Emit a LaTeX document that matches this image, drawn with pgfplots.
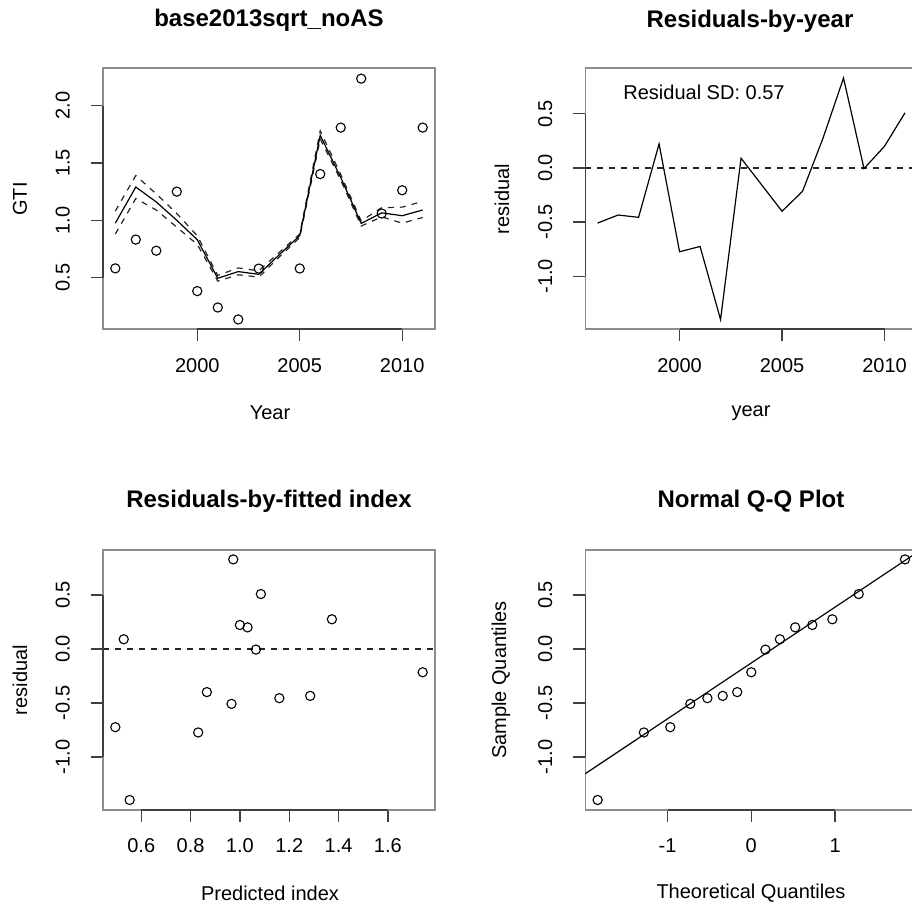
\documentclass[border=0pt]{standalone}
\usepackage{fontspec}
\setmainfont{Liberation Sans}
\usepackage{pgfplots}
\pgfplotsset{compat=1.18}
\begin{document}
\fontsize{10pt}{12pt}\selectfont
\begin{tikzpicture}
\pgfplotsset{
  rbase/.style={
    scale only axis,
    width=166pt,
    /pgf/number format/assume math mode=true,
    /pgf/number format/1000 sep={},
    font=\fontsize{10pt}{12pt}\selectfont,
    axis line style={draw=black!45, line width=0.8pt},
    tick align=outside,
    tick pos=left,
    major tick length=6pt,
    every tick/.style={black!75, line width=0.7pt},
    yticklabel style={xshift=-7pt, rotate=90, anchor=south, /pgf/number format/.cd, fixed, fixed zerofill, precision=1},
    xticklabel style={yshift=-5pt},
    clip=false,
  },
  circ/.style={only marks, mark=o, mark size=2.3pt, mark options={line width=0.55pt, black}},
  rline/.style={black, line width=0.6pt, mark=none},
  rdash/.style={black!85, line width=0.6pt, mark=none, dash pattern=on 3pt off 3pt},
}
\path[use as bounding box] (0,0) rectangle (456pt,453.5pt);
\clip (0,0) rectangle (456pt,453.5pt);

% ---------------- Panel 1 ----------------
\begin{axis}[rbase, at={(51.5pt,288.85pt)}, anchor=south west, height=130.5pt,
  xmin=1995.4, xmax=2011.6, ymin=0.05, ymax=2.325,
  xtick={2000,2005,2010}, ytick={0.5,1.0,1.5,2.0}]
\addplot[rdash] coordinates {(1996,1.08) (1997,1.39) (1998,1.23) (1999,1.06) (2000,0.865) (2001,0.52) (2002,0.585) (2003,0.56) (2004,0.72) (2005,0.88) (2006,1.78) (2007,1.40) (2008,0.995) (2009,1.11) (2010,1.115) (2011,1.165)};
\addplot[rdash] coordinates {(1996,0.88) (1997,1.19) (1998,1.09) (1999,0.94) (2000,0.79) (2001,0.47) (2002,0.525) (2003,0.505) (2004,0.68) (2005,0.85) (2006,1.71) (2007,1.35) (2008,0.95) (2009,1.03) (2010,0.975) (2011,1.025)};
\addplot[rline] coordinates {(1996,0.975) (1997,1.29) (1998,1.16) (1999,1.0) (2000,0.831) (2001,0.495) (2002,0.553) (2003,0.529) (2004,0.70) (2005,0.866) (2006,1.741) (2007,1.373) (2008,0.973) (2009,1.065) (2010,1.04) (2011,1.09)};
\addplot[circ] coordinates {(1996,0.581) (1997,0.832) (1998,0.735) (1999,1.25) (2000,0.383) (2001,0.24) (2002,0.136) (2003,0.579) (2005,0.58) (2006,1.403) (2007,1.808) (2008,2.235) (2009,1.059) (2010,1.262) (2011,1.808)};
\draw[black!75, line width=0.8pt] (axis cs:2000,0.05) -- (axis cs:2010,0.05);
\draw[black!75, line width=0.8pt] (axis cs:1995.4,0.5) -- (axis cs:1995.4,2.0);
\end{axis}

% ---------------- Panel 2 ----------------
\begin{axis}[rbase, at={(292.65pt,288.85pt)}, anchor=south west, height=130.5pt,
  xmin=1995.4, xmax=2011.6, ymin=-1.49, ymax=0.92,
  xtick={2000,2005,2010}, ytick={-1.0,-0.5,0.0,0.5}]
\addplot[rdash] coordinates {(1995.4,0) (2011.6,0)};
\addplot[rline] coordinates {(1996,-0.509) (1997,-0.435) (1998,-0.456) (1999,0.222) (2000,-0.774) (2001,-0.725) (2002,-1.40) (2003,0.09) (2005,-0.40) (2006,-0.216) (2007,0.275) (2008,0.83) (2009,-0.006) (2010,0.20) (2011,0.509)};
\draw[black!75, line width=0.8pt] (axis cs:2000,-1.49) -- (axis cs:2010,-1.49);
\draw[black!75, line width=0.8pt] (axis cs:1995.4,-1.0) -- (axis cs:1995.4,0.5);
\end{axis}

% ---------------- Panel 3 ----------------
\begin{axis}[rbase, at={(51.5pt,48.65pt)}, anchor=south west, height=130pt,
  xmin=0.445, xmax=1.791, ymin=-1.49, ymax=0.92,
  xtick={0.6,0.8,1.0,1.2,1.4,1.6}, ytick={-1.0,-0.5,0.0,0.5},
  xticklabel style={/pgf/number format/.cd, fixed, fixed zerofill, precision=1}]
\addplot[rdash] coordinates {(0.445,0) (1.791,0)};
\addplot[circ] coordinates {(0.495,-0.725) (0.529,0.09) (0.553,-1.40) (0.831,-0.774) (0.866,-0.40) (0.966,-0.509) (0.973,0.83) (1.0,0.222) (1.031,0.20) (1.065,-0.006) (1.085,0.509) (1.16,-0.456) (1.285,-0.435) (1.373,0.275) (1.741,-0.216)};
\draw[black!75, line width=0.8pt] (axis cs:0.6,-1.49) -- (axis cs:1.6,-1.49);
\draw[black!75, line width=0.8pt] (axis cs:0.445,-1.0) -- (axis cs:0.445,0.5);
\end{axis}

% ---------------- Panel 4 ----------------
\begin{axis}[rbase, at={(292.65pt,48.65pt)}, anchor=south west, height=130pt,
  xmin=-1.981, xmax=1.981, ymin=-1.49, ymax=0.92,
  xtick={-1,0,1}, ytick={-1.0,-0.5,0.0,0.5}]
\addplot[rline] coordinates {(-1.981,-1.156) (1.981,0.896)};
\addplot[circ] coordinates {(-1.834,-1.40) (-1.282,-0.774) (-0.967,-0.725) (-0.728,-0.509) (-0.524,-0.456) (-0.341,-0.435) (-0.168,-0.40) (0,-0.216) (0.168,-0.006) (0.341,0.09) (0.524,0.20) (0.728,0.222) (0.967,0.275) (1.282,0.509) (1.834,0.83)};
\draw[black!75, line width=0.8pt] (axis cs:-1,-1.49) -- (axis cs:1,-1.49);
\draw[black!75, line width=0.8pt] (axis cs:-1.981,-1.0) -- (axis cs:-1.981,0.5);
\end{axis}

% ---------------- Titles and labels (pixel coordinates) ----------------
\begin{scope}[shift={(0pt,453.5pt)}, x=0.5pt, y=-0.5pt]
\node[font=\fontsize{12pt}{14pt}\selectfont\bfseries] at (269,20) {base2013sqrt\_noAS};
\node[font=\fontsize{12pt}{14pt}\selectfont\bfseries] at (750,21) {Residuals-by-year};
\node[font=\fontsize{12pt}{14pt}\selectfont\bfseries] at (269,501) {Residuals-by-fitted index};
\node[font=\fontsize{12pt}{14pt}\selectfont\bfseries] at (751,501) {Normal Q-Q Plot};
\node at (270,413) {Year};
\node at (751,413) {year};
\node at (270,893) {Predicted index};
\node at (751,893) {Theoretical Quantiles};
\node[rotate=90] at (20,199) {GTI};
\node[rotate=90] at (502,199) {residual};
\node[rotate=90] at (20,680) {residual};
\node[rotate=90] at (501,680) {Sample Quantiles};
\node at (704,92) {Residual SD: 0.57};
\end{scope}
\end{tikzpicture}
\end{document}
